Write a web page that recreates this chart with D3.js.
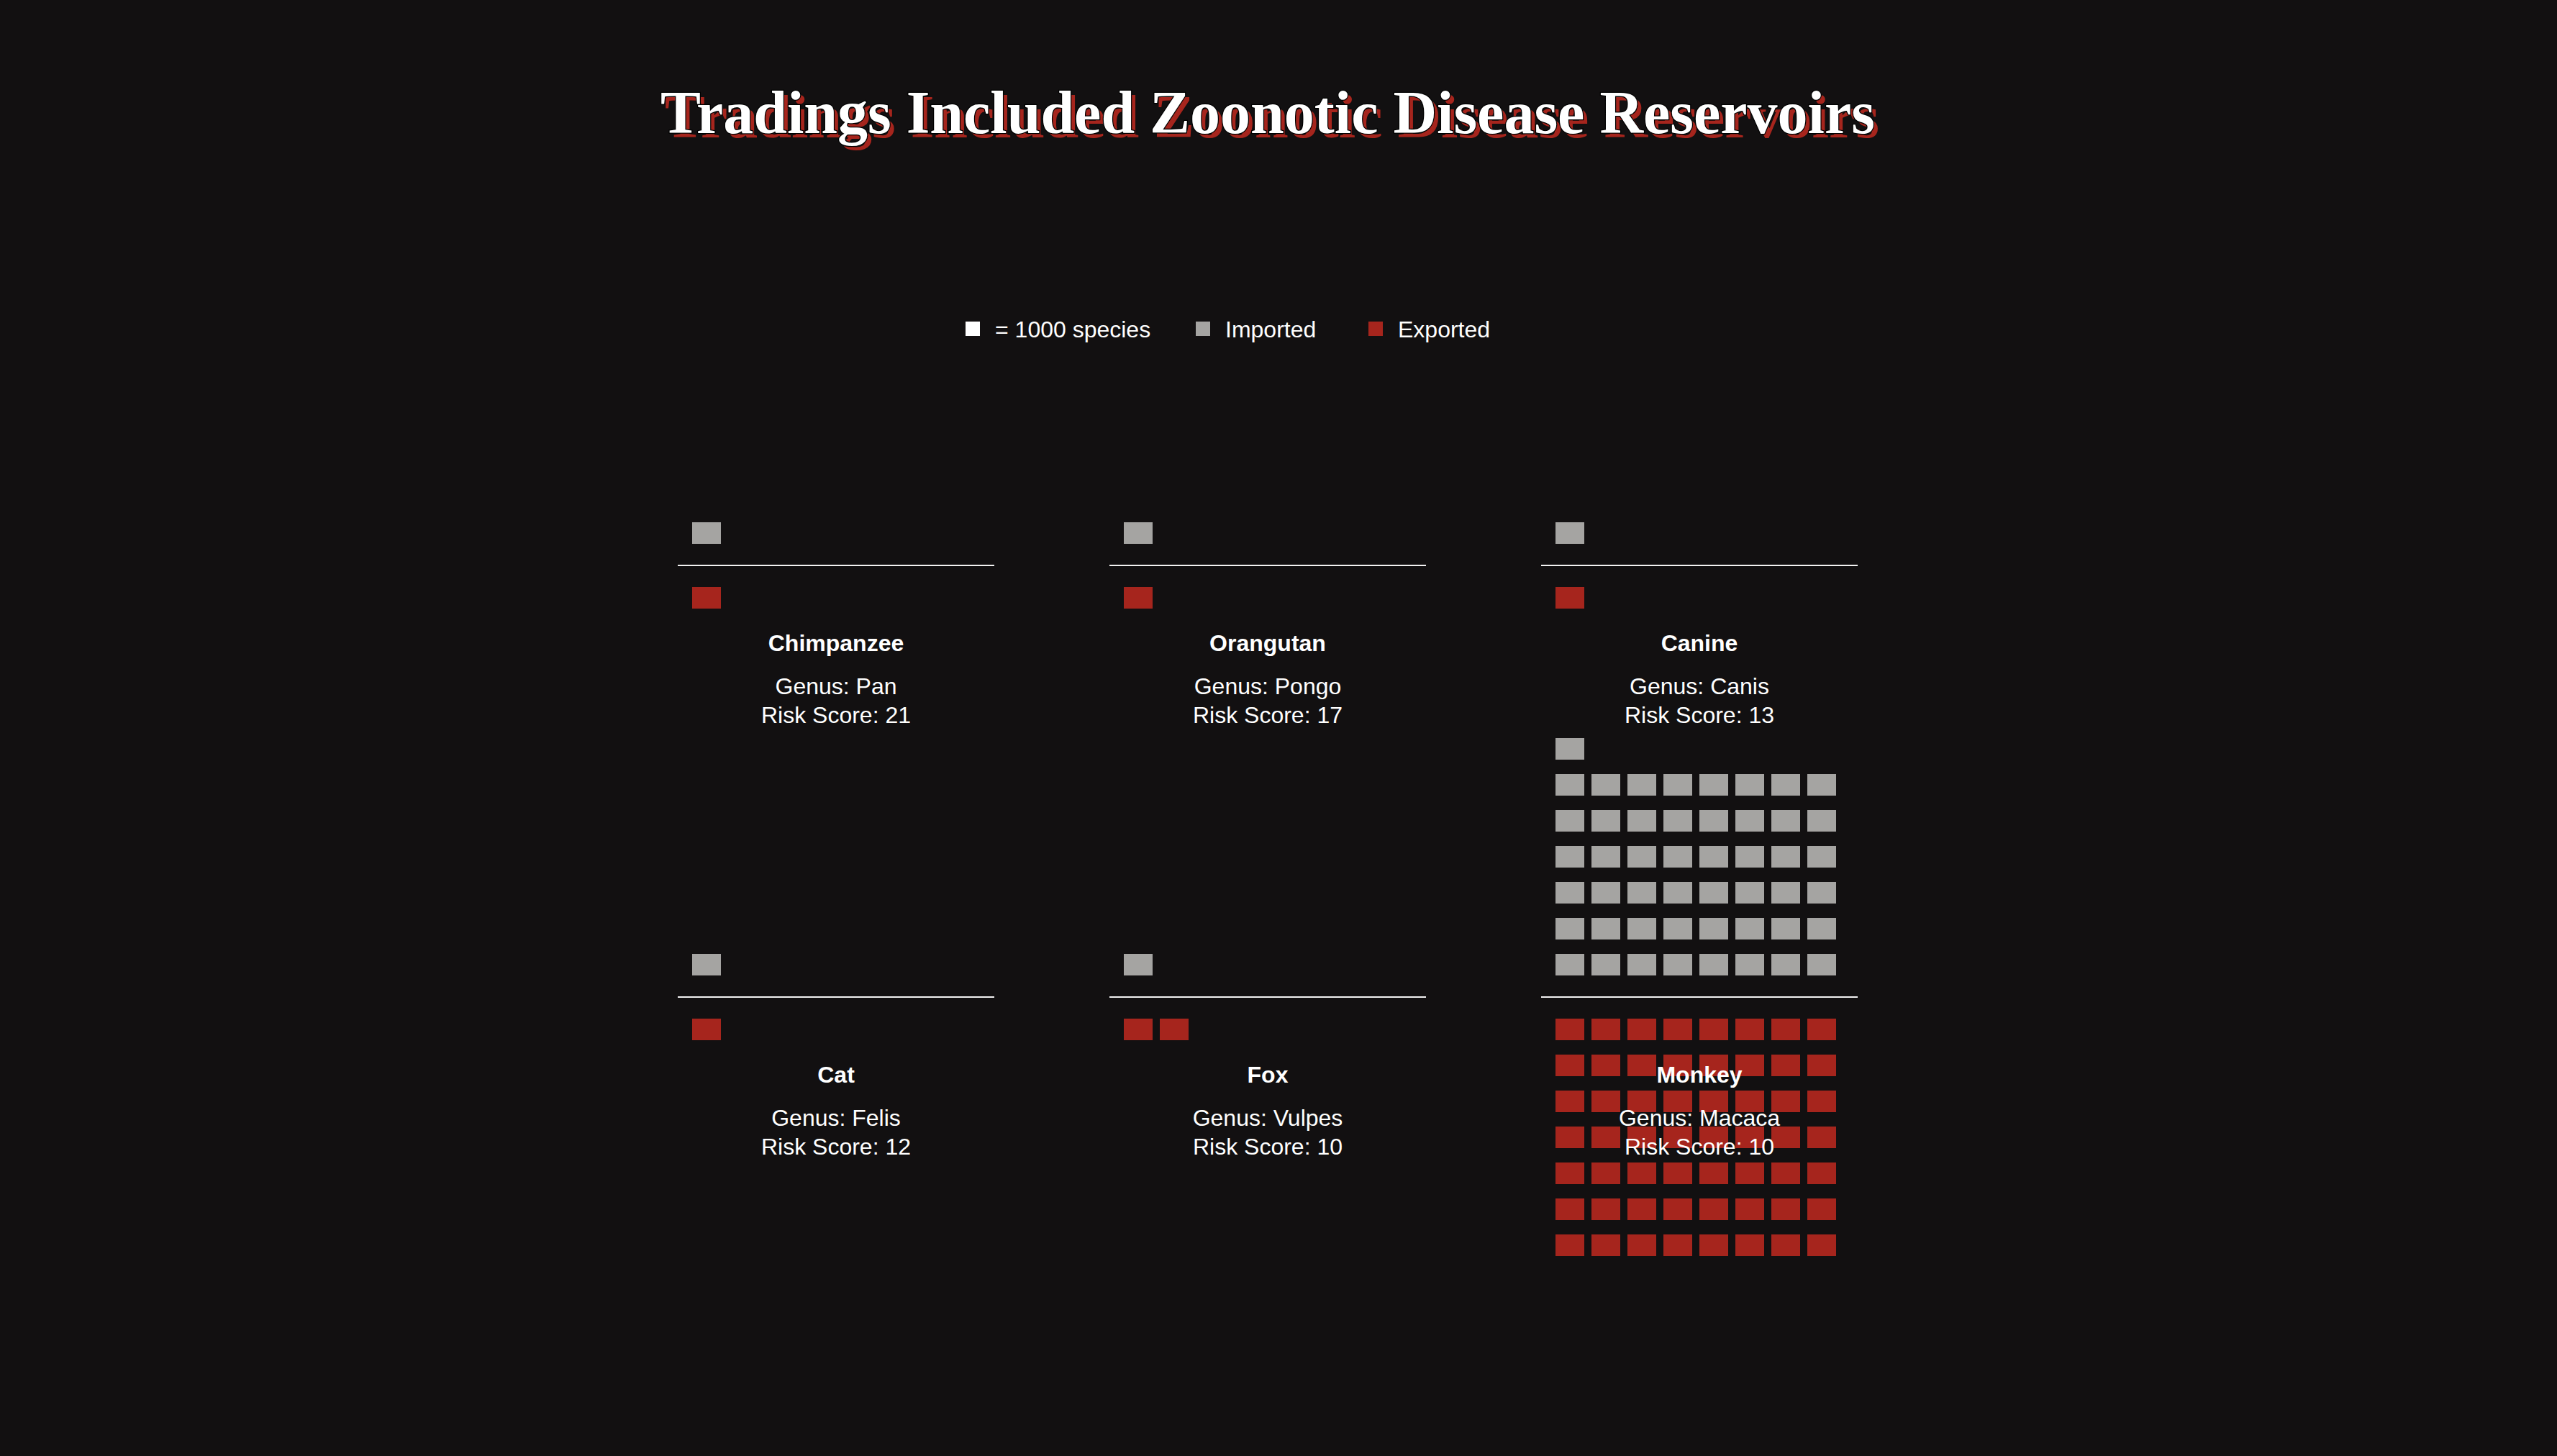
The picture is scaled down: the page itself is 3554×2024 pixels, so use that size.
<!DOCTYPE html>
<html>
<head>
<meta charset="utf-8">
<script src="https://cdn.jsdelivr.net/npm/d3@7"></script>
<style>
  html, body { margin: 0; padding: 0; background: #121011; }
  svg { display: block; }
</style>
</head>
<body>
<svg id="chart" width="3554" height="2024"></svg>
<script>
// ---- data ----
const species   = ["Chimpanzee", "Orangutan", "Canine", "Cat", "Fox", "Monkey"];
const genus     = ["Pan", "Pongo", "Canis", "Felis", "Vulpes", "Macaca"];
const riskScore = [21, 17, 13, 12, 10, 10];
// number of squares (1 square = 1000 species)
const imported  = [1, 1, 1, 1, 1, 49];
const exported  = [1, 1, 1, 1, 2, 56];
const legendLabels = ["= 1000 species", "Imported", "Exported"];
const titleText = "Tradings Included Zoonotic Disease Reservoirs";

// ---- style ----
const BG = "#121011", GRAY = "#a5a4a2", RED = "#a6251d", WHITE = "#ffffff";
const FONT = "'Liberation Sans', Arial, Helvetica, sans-serif";

const svg = d3.select("#chart");
svg.append("rect").attr("width", 3554).attr("height", 2024).attr("fill", BG);

const cx = 1762;

// ---- title ----
const tg = svg.append("g");
tg.append("text").attr("x", cx + 6).attr("y", 191)
  .attr("text-anchor", "middle")
  .attr("font-family", "'Liberation Serif', 'Times New Roman', serif")
  .attr("font-weight", "bold").attr("font-size", 84)
  .attr("fill", RED).text(titleText);
tg.append("text").attr("x", cx).attr("y", 185)
  .attr("text-anchor", "middle")
  .attr("font-family", "'Liberation Serif', 'Times New Roman', serif")
  .attr("font-weight", "bold").attr("font-size", 84)
  .attr("fill", WHITE).attr("stroke", "#000").attr("stroke-width", 2.5)
  .attr("paint-order", "stroke").text(titleText);

// ---- legend ----
const legendColors = [WHITE, GRAY, RED];
const legendX = [1342, 1662, 1902];
const lg = svg.append("g");
legendLabels.forEach((lab, i) => {
  lg.append("rect").attr("x", legendX[i]).attr("y", 447).attr("width", 20).attr("height", 20)
    .attr("fill", legendColors[i]);
  lg.append("text").attr("x", legendX[i] + 41).attr("y", 469)
    .attr("font-family", FONT).attr("font-size", 32).attr("fill", WHITE).text(lab);
});

// ---- panels ----
const panelCol = d3.scaleLinear().domain([0, 1]).range([942, 1542]);   // panel column -> left x
const panelRow = d3.scaleLinear().domain([0, 1]).range([786, 1386]);   // panel row -> axis line y
const panelW = 440;
const perRow = 8;
const sqX = d3.scaleLinear().domain([0, 1]).range([20, 70]);            // square column -> x offset
const sqUp = d3.scaleLinear().domain([0, 1]).range([-60, -110]);        // imported row -> y offset
const sqDown = d3.scaleLinear().domain([0, 1]).range([30, 80]);         // exported row -> y offset
const sqW = 40, sqH = 30;

species.forEach((name, i) => {
  const x0 = panelCol(i % 3);
  const y0 = panelRow(Math.floor(i / 3));
  const g = svg.append("g").attr("transform", `translate(${x0},${y0})`);

  const imp = d3.range(imported[i]);
  g.selectAll("rect.imp").data(imp).enter().append("rect")
    .attr("class", "imp")
    .attr("x", k => sqX(k % perRow))
    .attr("y", k => sqUp(Math.floor(k / perRow)))
    .attr("width", sqW).attr("height", sqH).attr("fill", GRAY);

  const exp = d3.range(exported[i]);
  g.selectAll("rect.exp").data(exp).enter().append("rect")
    .attr("class", "exp")
    .attr("x", k => sqX(k % perRow))
    .attr("y", k => sqDown(Math.floor(k / perRow)))
    .attr("width", sqW).attr("height", sqH).attr("fill", RED);

  g.append("line").attr("x1", 0).attr("x2", panelW).attr("y1", 0).attr("y2", 0)
    .attr("stroke", "#f2f2f2").attr("stroke-width", 2);

  g.append("text").attr("x", panelW / 2).attr("y", 119).attr("text-anchor", "middle")
    .attr("font-family", FONT).attr("font-weight", "bold").attr("font-size", 32)
    .attr("fill", WHITE).text(name);
  g.append("text").attr("x", panelW / 2).attr("y", 179).attr("text-anchor", "middle")
    .attr("font-family", FONT).attr("font-size", 32)
    .attr("fill", WHITE).text("Genus: " + genus[i]);
  g.append("text").attr("x", panelW / 2).attr("y", 219).attr("text-anchor", "middle")
    .attr("font-family", FONT).attr("font-size", 32)
    .attr("fill", WHITE).text("Risk Score: " + riskScore[i]);
});
</script>
</body>
</html>
